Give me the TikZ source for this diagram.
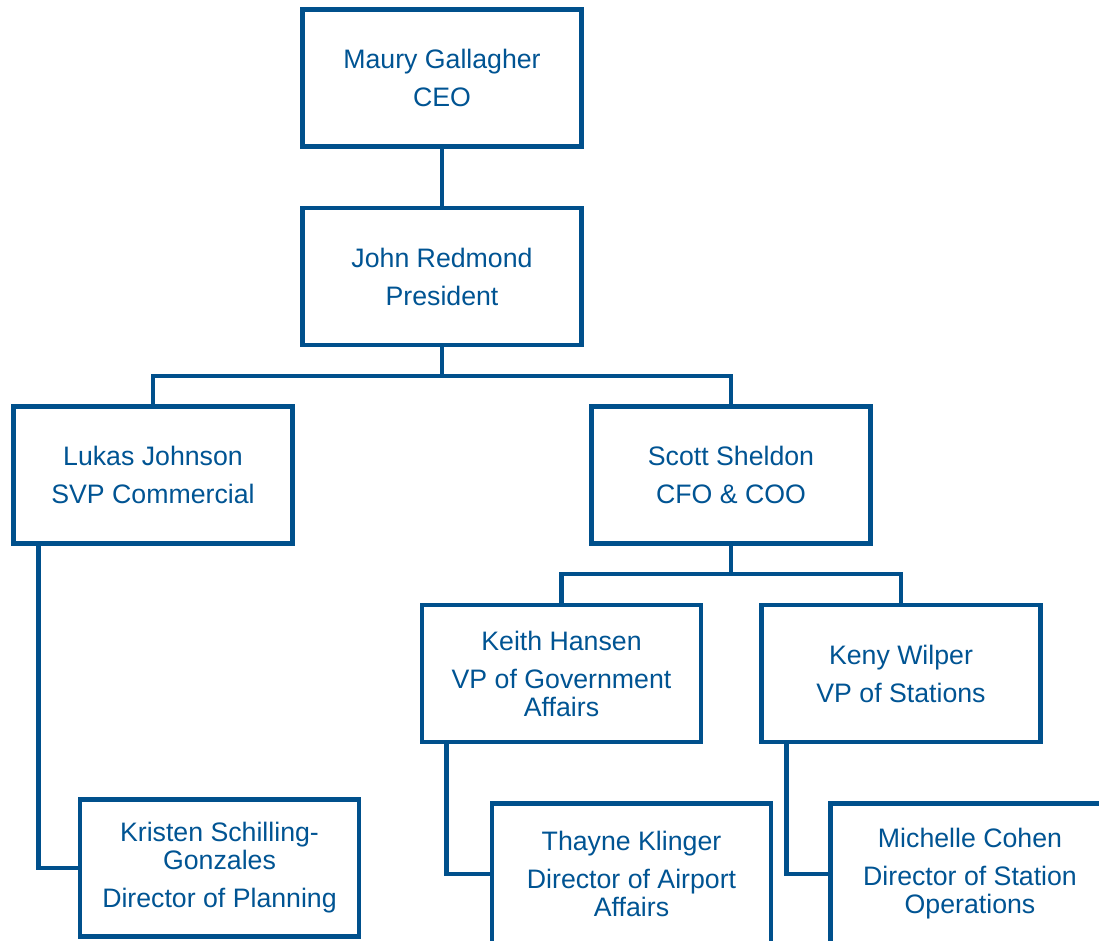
\documentclass[tikz,border=0pt]{standalone}
\usepackage{fontspec}
\setmainfont{Liberation Sans}
\definecolor{orgblue}{RGB}{0,80,140}
\definecolor{orgtext}{RGB}{0,84,147}
\begin{document}
\begin{tikzpicture}[x=1pt,y=-1pt,
  orgbox/.style={draw=orgblue, line width=4.6pt, fill=white, minimum width=279pt, minimum height=137pt,
    inner sep=0pt, align=center, text=orgtext, font=\fontsize{26.7}{28}\selectfont},
  orgline/.style={draw=orgblue, line width=4.6pt}]
\useasboundingbox (0,0) rectangle (1099,940);
\clip (0,0) rectangle (1099,940);
\node[orgbox] (ceo) at (442,78) {Maury Gallagher\\[10pt]CEO};
\node[orgbox] (pres) at (442,276.5) {John Redmond\\[10pt]President};
\node[orgbox] (lukas) at (153,475) {Lukas Johnson\\[10pt]SVP Commercial};
\node[orgbox] (scott) at (731,475) {Scott Sheldon\\[10pt]CFO \& COO};
\node[orgbox] (keith) at (561.5,673.5) {Keith Hansen\\[10pt]VP of Government\\Affairs};
\node[orgbox] (keny) at (901,673.5) {Keny Wilper\\[10pt]VP of Stations};
\node[orgbox] (kristen) at (219.5,868) {Kristen Schilling-\\Gonzales\\[10pt]Director of Planning};
\node[orgbox, minimum height=141pt] (thayne) at (631.5,874) {Thayne Klinger\\[10pt]Director of Airport\\Affairs};
\node[orgbox, minimum height=141pt] (michelle) at (970,874) {Michelle Cohen\\[10pt]Director of Station\\Operations};
\coordinate (bus1) at (442,376);
\coordinate (bus2) at (731,574);
\draw[orgline] (ceo.south) -- (pres.north);
\draw[orgline] (pres.south) -- (bus1);
\draw[orgline] (bus1) -| (lukas.north);
\draw[orgline] (bus1) -| (scott.north);
\draw[orgline] (scott.south) -- (bus2);
\draw[orgline] (bus2) -| (keith.north);
\draw[orgline] (bus2) -| (keny.north);
\draw[orgline] ([xshift=27pt]lukas.south west) |- (kristen.west);
\draw[orgline] ([xshift=27pt]keith.south west) |- (thayne.west);
\draw[orgline] ([xshift=27pt]keny.south west) |- (michelle.west);
\end{tikzpicture}
\end{document}
